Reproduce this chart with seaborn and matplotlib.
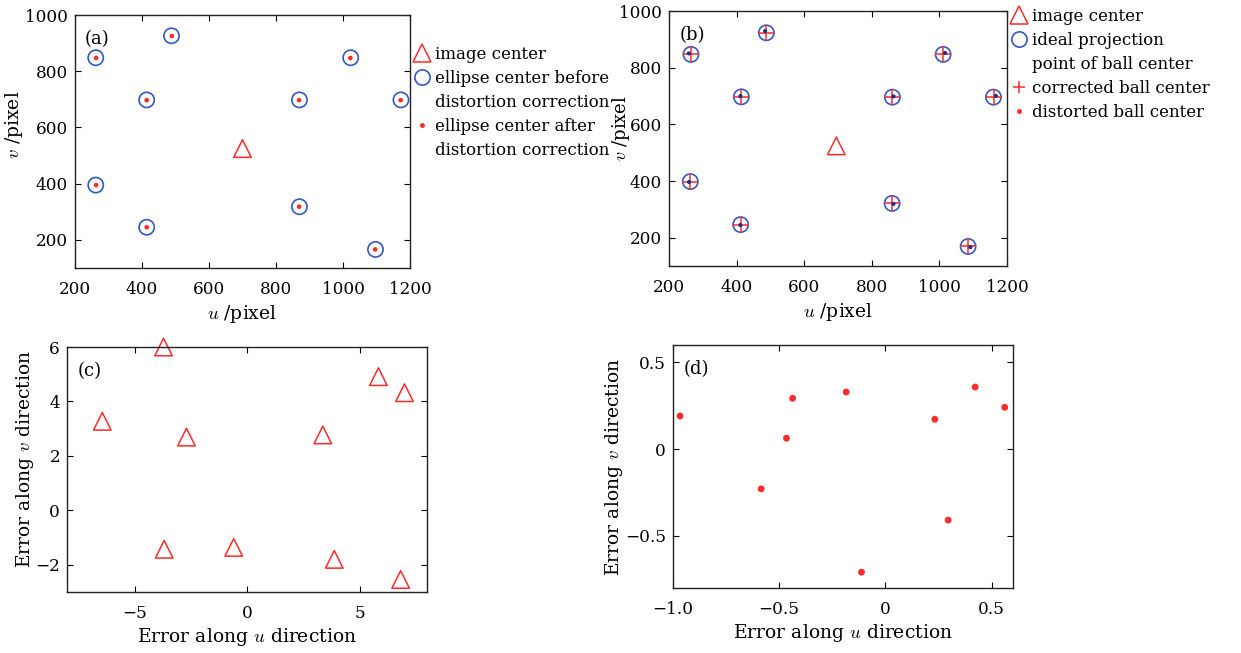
import matplotlib
matplotlib.use("Agg")
import matplotlib.pyplot as plt
from matplotlib.lines import Line2D
import seaborn as sns

sns.set_style("ticks")
plt.rcParams['font.family'] = ['DejaVu Serif']
plt.rcParams['mathtext.fontset'] = 'cm'
plt.rcParams['font.size'] = 13
plt.rcParams['text.color'] = 'black'
plt.rcParams['axes.labelcolor'] = 'black'
plt.rcParams['xtick.direction'] = 'in'
plt.rcParams['ytick.direction'] = 'in'
plt.rcParams['xtick.top'] = True
plt.rcParams['ytick.right'] = True

RED = '#ff2a2a'
BLUE = '#3557c4'
NAVY = '#1f2f8f'

# (a) ellipse centers, before / after distortion correction
a_u_before = [262, 488, 1023, 414, 870, 1173, 262, 414, 870, 1097]
a_v_before = [848, 926, 848, 698, 698, 698, 395, 245, 318, 166]
a_u_after = [263, 489, 1022, 414, 869, 1172, 263, 414, 869, 1096]
a_v_after = [847, 925, 847, 697, 697, 697, 395, 245, 318, 166]
a_center = (700, 525)

# (b) ideal projection, corrected and distorted ball centers
b_u_ideal = [265, 488, 1011, 414, 861, 1160, 263, 412, 860, 1085]
b_v_ideal = [847, 923, 847, 697, 696, 696, 398, 246, 321, 169]
b_u_corr = [264.0, 487.6, 1011.4, 413.5, 860.8, 1160.6, 262.4, 411.9, 860.3, 1085.2]
b_v_corr = [847.2, 923.3, 847.4, 697.1, 696.3, 696.2, 397.8, 245.3, 320.6, 169.2]
b_u_dist = [258.6, 484.3, 1016.8, 411.3, 864.4, 1167.0, 259.3, 411.4, 863.9, 1091.8]
b_v_dist = [850.3, 929.0, 851.9, 699.7, 698.8, 700.3, 396.6, 244.6, 319.2, 166.5]
b_center = (695, 524)

# (c) errors before correction
c_du = [-6.43, -3.71, -2.69, 3.37, 5.84, 7.00, -3.68, -0.59, 3.88, 6.83]
c_dv = [3.27, 6.00, 2.69, 2.77, 4.91, 4.32, -1.43, -1.36, -1.80, -2.54]

# (d) errors after correction
d_du = [-0.967, -0.585, -0.466, -0.437, -0.185, -0.113, 0.232, 0.295, 0.422, 0.561]
d_dv = [0.191, -0.229, 0.063, 0.293, 0.329, -0.709, 0.172, -0.409, 0.358, 0.241]

W, H = 1241, 653
fig = plt.figure(figsize=(W / 100, H / 100), dpi=100)


def box(l, t, r, b):
    return [l / W, 1 - b / H, (r - l) / W, (b - t) / H]


def style(ax, tag, ylab_x, ylab_y):
    for s in ax.spines.values():
        s.set_linewidth(1.0)
        s.set_color('#222222')
    ax.tick_params(length=4, width=0.8, labelsize=12.2, colors='black')
    ax.tick_params(axis='x', pad=9)
    ax.tick_params(axis='y', pad=5)
    ax.yaxis.set_label_coords(ylab_x, ylab_y)
    ax.text(0.03, 0.94, tag, transform=ax.transAxes, ha='left', va='top', fontsize=13)


ax_a = fig.add_axes(box(75, 15, 410, 268))
ax_b = fig.add_axes(box(669, 11, 1007, 266))
ax_c = fig.add_axes(box(67, 347, 427, 592))
ax_d = fig.add_axes(box(673, 345, 1013, 588))

# (a)
sns.scatterplot(x=a_u_before, y=a_v_before, ax=ax_a, marker='o', s=120,
                facecolors='none', edgecolor=BLUE, linewidth=1.2)
sns.scatterplot(x=a_u_after, y=a_v_after, ax=ax_a, marker='o', s=11,
                color=RED, edgecolor='none')
sns.scatterplot(x=[a_center[0]], y=[a_center[1]], ax=ax_a, marker='^', s=160,
                facecolors='none', edgecolor=RED, linewidth=1.1)
ax_a.set_xlim(200, 1200)
ax_a.set_ylim(100, 1000)
ax_a.set_xticks([200, 400, 600, 800, 1000, 1200])
ax_a.set_yticks([200, 400, 600, 800, 1000])
ax_a.set_xlabel(r'$u$ /pixel', fontsize=13.5, labelpad=4)
ax_a.set_ylabel(r'$v$ /pixel', fontsize=13.5)
style(ax_a, '(a)', -0.15, 0.565)

# (b)
sns.scatterplot(x=b_u_ideal, y=b_v_ideal, ax=ax_b, marker='o', s=120,
                facecolors='none', edgecolor=BLUE, linewidth=1.2)
sns.scatterplot(x=b_u_corr, y=b_v_corr, ax=ax_b, marker='+', s=130,
                color=RED, linewidth=1.1)
sns.scatterplot(x=b_u_dist, y=b_v_dist, ax=ax_b, marker='o', s=9,
                color=NAVY, edgecolor='none')
sns.scatterplot(x=[b_center[0]], y=[b_center[1]], ax=ax_b, marker='^', s=160,
                facecolors='none', edgecolor=RED, linewidth=1.1)
ax_b.set_xlim(200, 1200)
ax_b.set_ylim(100, 1000)
ax_b.set_xticks([200, 400, 600, 800, 1000, 1200])
ax_b.set_yticks([200, 400, 600, 800, 1000])
ax_b.set_xlabel(r'$u$ /pixel', fontsize=13.5, labelpad=4)
ax_b.set_ylabel(r'$v$ /pixel', fontsize=13)
style(ax_b, '(b)', -0.108, 0.54)

# (c)
sns.scatterplot(x=c_du, y=c_dv, ax=ax_c, marker='^', s=160,
                facecolors='none', edgecolor=RED, linewidth=1.1, clip_on=False)
ax_c.set_xlim(-8, 8)
ax_c.set_ylim(-3, 6)
ax_c.set_xticks([-5, 0, 5])
ax_c.set_yticks([-2, 0, 2, 4, 6])
ax_c.set_xlabel(r'Error along $u$ direction', fontsize=13.5, labelpad=3)
ax_c.set_ylabel(r'Error along $v$ direction', fontsize=13.5)
style(ax_c, '(c)', -0.085, 0.543)

# (d)
sns.scatterplot(x=d_du, y=d_dv, ax=ax_d, marker='o', s=24,
                color=RED, edgecolor='none')
ax_d.set_xlim(-1.0, 0.6)
ax_d.set_ylim(-0.8, 0.6)
ax_d.set_xticks([-1.0, -0.5, 0, 0.5])
ax_d.set_xticklabels(['\u22121.0', '\u22120.5', '0', '0.5'])
ax_d.set_yticks([-0.5, 0, 0.5])
ax_d.set_yticklabels(['\u22120.5', '0', '0.5'])
ax_d.set_xlabel(r'Error along $u$ direction', fontsize=13.5, labelpad=3)
ax_d.set_ylabel(r'Error along $v$ direction', fontsize=13.5)
style(ax_d, '(d)', -0.14, 0.5)

# legends (one text line per entry, continuation lines get an empty handle)
tri = Line2D([], [], ls='', marker='^', ms=12.5, mfc='none', mec=RED, mew=1.1)
circ = Line2D([], [], ls='', marker='o', ms=11, mfc='none', mec=BLUE, mew=1.2)
dot = Line2D([], [], ls='', marker='o', ms=3.5, mfc=RED, mec='none')
plus = Line2D([], [], ls='', marker='+', ms=9, mec=RED, mew=1.1)
blank = Line2D([], [], ls='', marker='')

leg_kw = dict(loc='upper left', frameon=False, fontsize=12, handlelength=1.0,
              handletextpad=0.25, labelspacing=0.42, borderpad=0, borderaxespad=0,
              labelcolor='black')
fig.legend([tri, circ, blank, dot, blank],
           ['image center', 'ellipse center before', 'distortion correction',
            'ellipse center after', 'distortion correction'],
           bbox_to_anchor=(414 / W, 1 - 46 / H), **leg_kw)
fig.legend([tri, circ, blank, plus, dot],
           ['image center', 'ideal projection', 'point of ball center',
            'corrected ball center', 'distorted ball center'],
           bbox_to_anchor=(1011 / W, 1 - 8 / H), **leg_kw)

fig.savefig('out.png', dpi=100, facecolor='white')
